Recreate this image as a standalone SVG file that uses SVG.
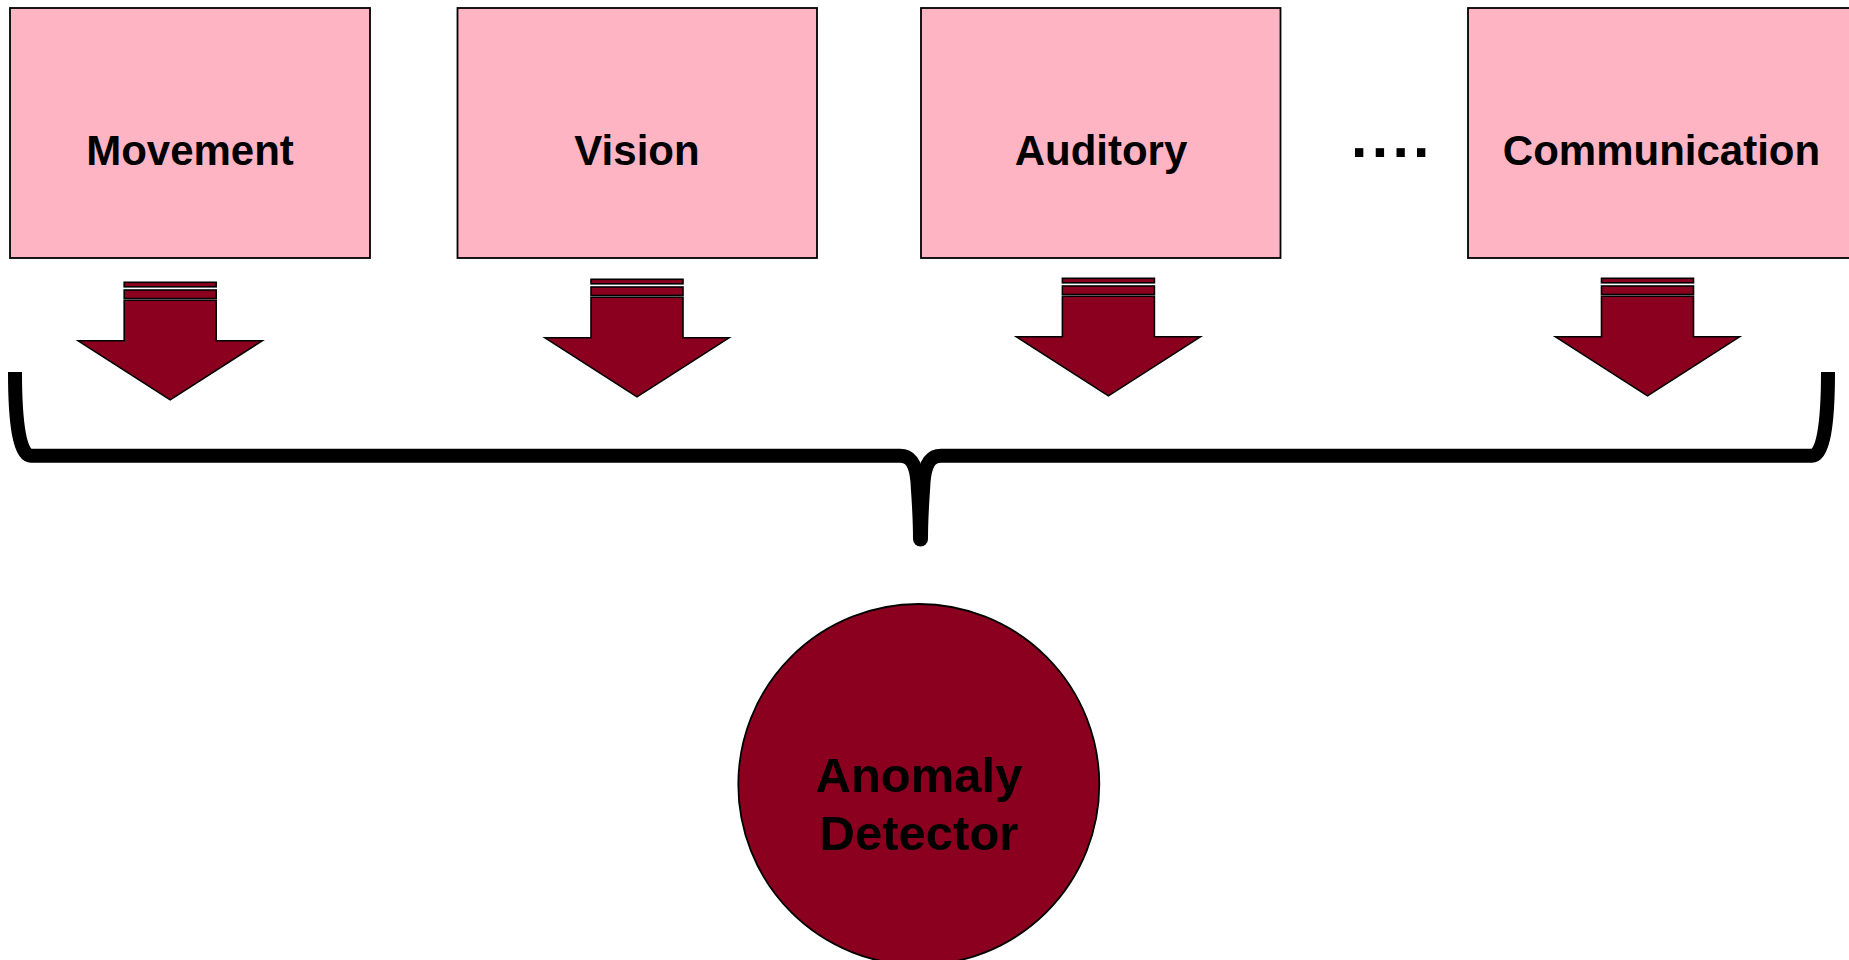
<svg xmlns="http://www.w3.org/2000/svg" xmlns:xlink="http://www.w3.org/1999/xlink" width="1849" height="960" viewBox="0 0 1849 960">
<style>
.box{fill:#FFB4C4;stroke:#000;stroke-width:1.8}
.lbl{font-family:"Liberation Sans",Arial,sans-serif;font-weight:bold;font-size:42px;fill:#000;text-anchor:middle}
.big{font-size:49px}
.arr{fill:#8B001F;stroke:#000;stroke-width:1.6;stroke-linejoin:miter}
.brace{fill:none;stroke:#000;stroke-width:14;stroke-linecap:butt;stroke-linejoin:round}
</style>
<defs>
<g id="arrow">
<rect class="arr" x="-46" y="0" width="92" height="4.5"/>
<rect class="arr" x="-46" y="7.7" width="92" height="8.5"/>
<polygon class="arr" points="-46,18 46,18 46,58.5 92,58.5 0,117.5 -92,58.5 -46,58.5"/>
</g>
</defs>
<rect width="1849" height="960" fill="#fff"/>
<g id="movement">
<rect class="box" x="10" y="8" width="360" height="250"/>
<text class="lbl" x="190" y="165">Movement</text>
</g>
<g id="vision">
<rect class="box" x="457.5" y="8" width="359.5" height="250"/>
<text class="lbl" x="637" y="165">Vision</text>
</g>
<g id="auditory">
<rect class="box" x="921" y="8" width="359.5" height="250"/>
<text class="lbl" x="1101" y="165">Auditory</text>
</g>
<g id="ellipsis">
<text x="1351" y="156.7" style="font-family:'Liberation Sans',Arial,sans-serif;font-weight:bold;font-size:59px;letter-spacing:4.3px" fill="#000">....</text>
</g>
<g id="communication">
<rect class="box" x="1468" y="8" width="390" height="250"/>
<text class="lbl" x="1661.5" y="165">Communication</text>
</g>
<g id="anomaly-detector">
<circle cx="918.8" cy="784.5" r="180.5" fill="#8B001F" stroke="#000" stroke-width="1.8"/>
<text class="lbl big" x="919" y="791.7">Anomaly</text>
<text class="lbl big" x="919" y="850">Detector</text>
</g>
<g id="connectors">
<use xlink:href="#arrow" href="#arrow" transform="translate(170.2,282.3)"/>
<use xlink:href="#arrow" href="#arrow" transform="translate(637,279.3)"/>
<use xlink:href="#arrow" href="#arrow" transform="translate(1108.4,278.3)"/>
<use xlink:href="#arrow" href="#arrow" transform="translate(1647.5,278.3)"/>
<path class="brace" d="M15,372 C15,425 20,455.7 31,455.7 L900,455.7 C911,455.7 916,464 917.5,482 C918.5,500 920,515 920,539"/>
<path class="brace" d="M1828,372 C1828,425 1823,455.7 1812,455.7 L941,455.7 C930,455.7 925,464 923.5,482 C922.5,500 921,515 921,539"/>
<circle cx="920.5" cy="539" r="7.5" fill="#000"/>
</g>
</svg>
